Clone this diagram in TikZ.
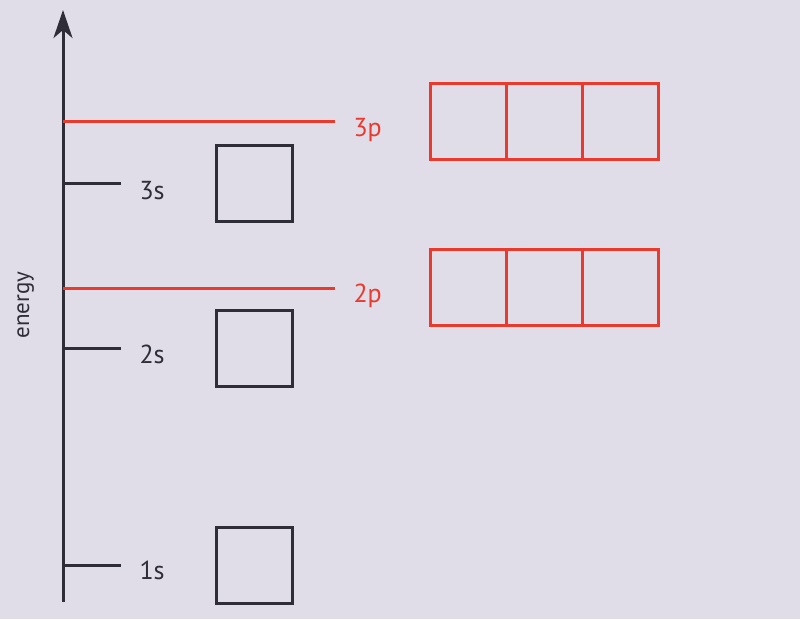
\documentclass[tikz,border=0pt]{standalone}
\usepackage{fontspec}
\setmainfont{PT Sans}
\usepackage{tikz}
\usetikzlibrary{arrows.meta,positioning}

\definecolor{bgcol}{RGB}{224,221,233}
\definecolor{inkcol}{RGB}{46,45,56}
\definecolor{redcol}{RGB}{234,57,45}

\begin{document}
\begin{tikzpicture}[x=1pt,y=-1pt,line width=3pt,
	font=\fontsize{26}{30}\selectfont,
	box/.style={draw=inkcol,minimum size=76pt,inner sep=0pt,outer sep=0pt},
	pbox/.style={draw=redcol,minimum size=76pt,inner sep=0pt,outer sep=0pt},
	lbl/.style={text=inkcol,anchor=base west,inner sep=0pt},
	plbl/.style={text=redcol,anchor=base west,inner sep=0pt}]
	\fill [bgcol] (0,0) rectangle (800,619);
	\useasboundingbox (0,0) rectangle (800,619);

	% energy axis
	\coordinate (bot) at (63,602);
	\coordinate (top) at (63,10);
	\draw [inkcol,-{Stealth[length=28pt,width=19pt,inset=8pt]}] (bot) -- (top);
	\node (en) at (29,305) [rotate=90,anchor=base,inner sep=0pt,text=inkcol,
		font=\fontsize{23}{27}\selectfont] {energy};

	% s levels
	\coordinate (s1) at (63,565);
	\coordinate (s2) at (63,348);
	\coordinate (s3) at (63,183);
	\coordinate (s1e) at (121,565);
	\coordinate (s2e) at (121,348);
	\coordinate (s3e) at (121,183);
	\draw [inkcol] (s1) -- (s1e);
	\draw [inkcol] (s2) -- (s2e);
	\draw [inkcol] (s3) -- (s3e);
	\node (l1s) at (138,579) [lbl] {1s};
	\node (l2s) at (138,363) [lbl] {2s};
	\node (l3s) at (138,199) [lbl] {3s};

	\node (b1s) at (254,565) [box] {};
	\node (b2s) at (254,348) [box] {};
	\node (b3s) at (254,183) [box] {};

	% p levels
	\coordinate (p2) at (63,288);
	\coordinate (p3) at (63,121);
	\coordinate (p2e) at (335,288);
	\coordinate (p3e) at (335,121);
	\draw [redcol] (p2) -- (p2e);
	\draw [redcol] (p3) -- (p3e);
	\node (l2p) at (352,302) [plbl] {2p};
	\node (l3p) at (352,136) [plbl] {3p};

	\node (b2pa) at (468,287) [pbox] {};
	\node (b2pb) [pbox,right=0pt of b2pa] {};
	\node (b2pc) [pbox,right=0pt of b2pb] {};
	\node (b3pa) at (468,121) [pbox] {};
	\node (b3pb) [pbox,right=0pt of b3pa] {};
	\node (b3pc) [pbox,right=0pt of b3pb] {};
\end{tikzpicture}
\end{document}
